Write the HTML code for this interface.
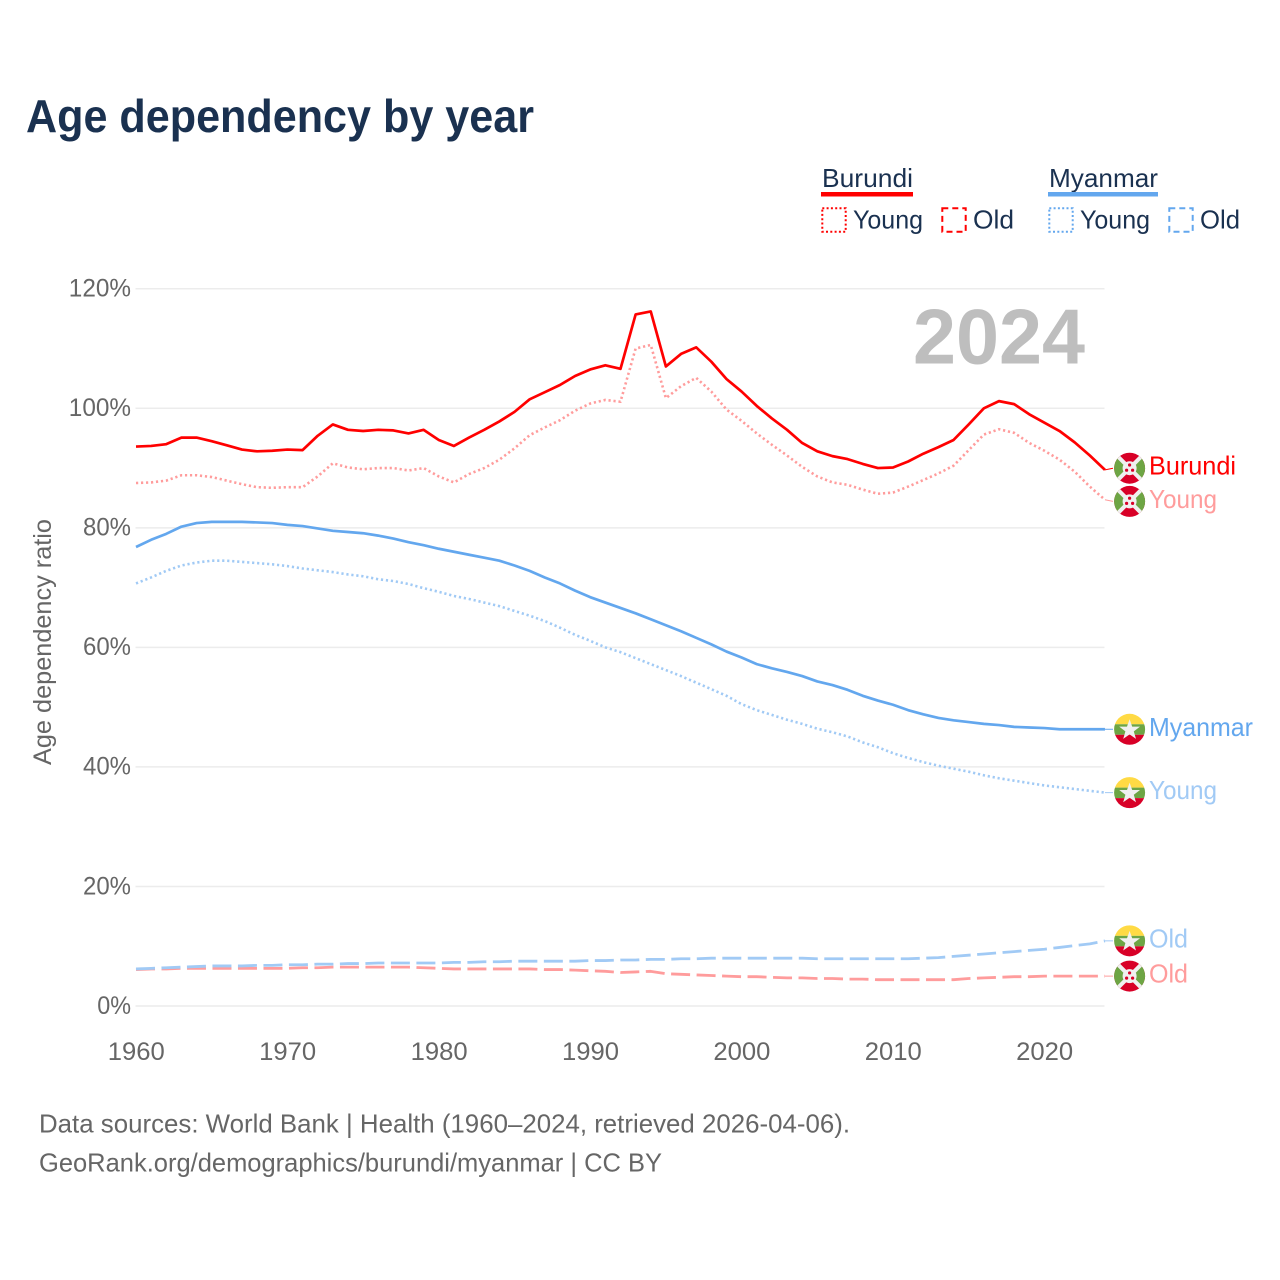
<!DOCTYPE html>
<html lang="en">
<head>
<meta charset="utf-8">
<title>Age dependency by year</title>
<style>
html,body{margin:0;padding:0;background:#fff;}
svg{display:block;font-family:"Liberation Sans",Arial,sans-serif;}
</style>
</head>
<body>
<svg id="chart" xmlns="http://www.w3.org/2000/svg" width="1280" height="1280" viewBox="0 0 1280 1280">
  <defs>
    <clipPath id="flag-clip"><circle cx="0" cy="0" r="15.5"/></clipPath>
    <symbol id="flag-burundi" viewBox="-16 -16 32 32" width="32" height="32" overflow="visible">
      <g clip-path="url(#flag-clip)">
        <rect x="-16" y="-16" width="32" height="32" fill="#d80027"/>
        <path d="M-16,-16 L0,0 L-16,16 Z" fill="#6da544"/>
        <path d="M16,-16 L0,0 L16,16 Z" fill="#6da544"/>
        <path d="M-16,-16 L16,16 M16,-16 L-16,16" stroke="#f0f0f0" stroke-width="4"/>
        <circle cx="0" cy="0" r="7" fill="#f0f0f0"/>
        <circle cx="0" cy="-3.2" r="1.6" fill="#d80027"/>
        <circle cx="-3" cy="2" r="1.6" fill="#d80027"/>
        <circle cx="3" cy="2" r="1.6" fill="#d80027"/>
      </g>
    </symbol>
    <symbol id="flag-myanmar" viewBox="-16 -16 32 32" width="32" height="32" overflow="visible">
      <g clip-path="url(#flag-clip)">
        <rect x="-16" y="-16" width="32" height="11" fill="#ffda44"/>
        <rect x="-16" y="-5" width="32" height="10.5" fill="#6da544"/>
        <rect x="-16" y="5.5" width="32" height="11" fill="#d80027"/>
        <path d="M0,-10 L2.6,-2.6 L10.4,-2.6 L4.2,2.1 L6.4,9.6 L0,5.1 L-6.4,9.6 L-4.2,2.1 L-10.4,-2.6 L-2.6,-2.6 Z" fill="#f0f0f0"/>
      </g>
    </symbol>
  </defs>

  <text x="26" y="132" font-size="46" font-weight="700" fill="#1a3150" textLength="508" lengthAdjust="spacingAndGlyphs">Age dependency by year</text>

  <g font-size="26" fill="#1a3150">
    <text x="822" y="187" textLength="91" lengthAdjust="spacingAndGlyphs">Burundi</text>
    <rect x="821" y="192" width="92" height="4.5" fill="#ff0000"/>
    <rect x="822.3" y="208.3" width="23.4" height="23.4" fill="none" stroke="#ff0000" stroke-width="2" stroke-dasharray="2 2.3"/>
    <text x="853" y="228.5" textLength="70" lengthAdjust="spacingAndGlyphs">Young</text>
    <rect x="942.3" y="208.3" width="23.4" height="23.4" fill="none" stroke="#ff0000" stroke-width="2" stroke-dasharray="6 4"/>
    <text x="973" y="228.5" textLength="41" lengthAdjust="spacingAndGlyphs">Old</text>

    <text x="1049" y="187" textLength="109" lengthAdjust="spacingAndGlyphs">Myanmar</text>
    <rect x="1048" y="192" width="110" height="4.5" fill="#63a7ee"/>
    <rect x="1049.3" y="208.3" width="23.4" height="23.4" fill="none" stroke="#63a7ee" stroke-width="2" stroke-dasharray="2 2.3"/>
    <text x="1080" y="228.5" textLength="70" lengthAdjust="spacingAndGlyphs">Young</text>
    <rect x="1169.3" y="208.3" width="23.4" height="23.4" fill="none" stroke="#63a7ee" stroke-width="2" stroke-dasharray="6 4"/>
    <text x="1200" y="228.5" textLength="40" lengthAdjust="spacingAndGlyphs">Old</text>
  </g>

  <g id="grid"></g>
  <g id="y-ticks"></g>
  <g id="x-ticks"></g>
  <text transform="translate(51 642) rotate(-90)" text-anchor="middle" font-size="25" fill="#666666" textLength="246" lengthAdjust="spacingAndGlyphs">Age dependency ratio</text>
  <text x="913" y="363.5" font-size="78" font-weight="700" fill="#bebebe" textLength="172" lengthAdjust="spacingAndGlyphs">2024</text>

  <g id="series"></g>
  <g id="end-labels"></g>

  <text x="39" y="1132.5" font-size="26" fill="#666666" textLength="811" lengthAdjust="spacingAndGlyphs">Data sources: World Bank | Health (1960–2024, retrieved 2026-04-06).</text>
  <text x="39" y="1171.5" font-size="26" fill="#666666" textLength="623" lengthAdjust="spacingAndGlyphs">GeoRank.org/demographics/burundi/myanmar | CC BY</text>
</svg>

<script>
const firstYear = 1960;
const yTickValues = [0, 20, 40, 60, 80, 100, 120];
const xTickYears = [1960, 1970, 1980, 1990, 2000, 2010, 2020];

const burundiTotal = [
  93.6,93.7,94.0,95.1,95.1,94.5,93.8,93.1,92.8,92.9,
  93.1,93.0,95.4,97.3,96.4,96.2,96.4,96.3,95.8,96.4,
  94.7,93.7,95.1,96.4,97.8,99.4,101.5,102.7,103.9,105.4,
  106.5,107.2,106.6,115.7,116.2,107.0,109.1,110.2,107.8,104.9,
  102.8,100.4,98.3,96.4,94.2,92.8,92.0,91.5,90.7,90.0,
  90.1,91.1,92.4,93.5,94.7,97.3,100.0,101.2,100.7,99.0,
  97.6,96.2,94.3,92.1,89.7
];
const burundiYoung = [
  87.5,87.6,87.9,88.8,88.8,88.5,87.9,87.3,86.8,86.7,
  86.8,86.8,88.6,90.8,90.1,89.8,90.0,90.0,89.6,90.0,
  88.6,87.6,89.0,90.0,91.4,93.3,95.5,96.8,98.0,99.6,
  100.8,101.4,101.1,110.0,110.6,101.7,103.7,105.1,102.8,99.8,
  97.9,95.8,93.9,92.1,90.2,88.6,87.6,87.2,86.4,85.7,
  85.9,86.9,88.0,89.1,90.4,93.0,95.6,96.5,95.9,94.2,
  92.9,91.4,89.4,86.9,84.7
];
const burundiOld = [
  6.1,6.2,6.2,6.3,6.3,6.3,6.3,6.3,6.3,6.3,
  6.3,6.4,6.4,6.5,6.5,6.5,6.5,6.5,6.5,6.4,
  6.3,6.2,6.2,6.2,6.2,6.2,6.2,6.1,6.1,6.0,
  5.9,5.8,5.6,5.7,5.8,5.4,5.3,5.2,5.1,5.0,
  4.9,4.9,4.8,4.7,4.7,4.6,4.6,4.5,4.5,4.4,
  4.4,4.4,4.4,4.4,4.4,4.6,4.7,4.8,4.9,4.9,
  5.0,5.0,5.0,5.0,5.0
];
const myanmarTotal = [
  76.8,78.0,79.0,80.2,80.8,81.0,81.0,81.0,80.9,80.8,
  80.5,80.3,79.9,79.5,79.3,79.1,78.7,78.2,77.6,77.1,
  76.5,76.0,75.5,75.0,74.5,73.7,72.8,71.7,70.7,69.5,
  68.4,67.5,66.6,65.7,64.7,63.7,62.7,61.6,60.5,59.3,
  58.3,57.2,56.5,55.9,55.2,54.3,53.7,52.9,51.9,51.1,
  50.4,49.5,48.8,48.2,47.8,47.5,47.2,47.0,46.7,46.6,
  46.5,46.3,46.3,46.3,46.3
];
const myanmarYoung = [
  70.7,71.7,72.8,73.7,74.2,74.5,74.5,74.3,74.1,73.9,
  73.6,73.2,72.9,72.6,72.2,71.9,71.4,71.1,70.6,69.9,
  69.3,68.6,68.1,67.5,66.9,66.1,65.3,64.4,63.3,62.1,
  61.1,60.0,59.2,58.2,57.2,56.2,55.2,54.1,53.0,51.9,
  50.5,49.5,48.7,47.9,47.2,46.4,45.8,45.1,44.1,43.3,
  42.3,41.5,40.8,40.2,39.7,39.2,38.6,38.1,37.7,37.3,
  36.9,36.6,36.3,36.0,35.7
];
const myanmarOld = [
  6.2,6.3,6.4,6.5,6.6,6.7,6.7,6.7,6.8,6.8,
  6.9,6.9,7.0,7.0,7.1,7.1,7.2,7.2,7.2,7.2,
  7.2,7.3,7.3,7.4,7.4,7.5,7.5,7.5,7.5,7.5,
  7.6,7.6,7.7,7.7,7.8,7.8,7.9,7.9,8.0,8.0,
  8.0,8.0,8.0,8.0,8.0,7.9,7.9,7.9,7.9,7.9,
  7.9,7.9,8.0,8.1,8.3,8.5,8.7,8.9,9.1,9.3,
  9.5,9.8,10.1,10.4,10.9
];

const SVG_NS = 'http://www.w3.org/2000/svg';
function xScale(year) { return 136 + (year - 1960) * 15.14; }
function yScale(value) { return 1006 - value * 5.977; }

function make(tag, attrs, parent) {
  const el = document.createElementNS(SVG_NS, tag);
  for (const key in attrs) el.setAttribute(key, attrs[key]);
  parent.appendChild(el);
  return el;
}

const gridGroup = document.getElementById('grid');
const yTickGroup = document.getElementById('y-ticks');
yTickValues.forEach(function (value) {
  const line = make('line', { x1: 135.5, x2: 1104.5, y1: yScale(value), y2: yScale(value), stroke: '#ececec', 'stroke-width': 1.5 }, gridGroup);
  
  
  const label = value + '%';
  const text = make('text', { x: 131, y: yScale(value) + 7.8, 'text-anchor': 'end', 'font-size': 25, fill: '#666666', textLength: (label.length - 1) * 14.2 + 19.6, lengthAdjust: 'spacingAndGlyphs' }, yTickGroup);
  text.textContent = label;
  
  
});

const xTickGroup = document.getElementById('x-ticks');
xTickYears.forEach(function (year) {
  const text = make('text', { x: xScale(year) + 0.3, y: 1060.2, 'text-anchor': 'middle', 'font-size': 25, fill: '#666666', textLength: 57, lengthAdjust: 'spacingAndGlyphs' }, xTickGroup);
  text.textContent = String(year);
  
  
});

const RED = '#ff0000', RED_LIGHT = '#ff9c9c', BLUE = '#63a7ee', BLUE_LIGHT = '#a1caf5';
const DOTTED = '2.2 2.8', DASHED = '19 6.5';
const seriesList = [
  { key: 'burundi-old', values: burundiOld, color: RED_LIGHT, dash: DASHED, width: 2.8, label: 'Old', labelWidth: 39, flag: 'flag-burundi' },
  { key: 'burundi-young', values: burundiYoung, color: RED_LIGHT, dash: DOTTED, width: 2.6, label: 'Young', labelWidth: 68, flag: 'flag-burundi' },
  { key: 'burundi-total', values: burundiTotal, color: RED, dash: '', width: 2.7, label: 'Burundi', labelWidth: 87, flag: 'flag-burundi' },
  { key: 'myanmar-old', values: myanmarOld, color: BLUE_LIGHT, dash: DASHED, width: 2.8, label: 'Old', labelWidth: 39, flag: 'flag-myanmar' },
  { key: 'myanmar-young', values: myanmarYoung, color: BLUE_LIGHT, dash: DOTTED, width: 2.6, label: 'Young', labelWidth: 68, flag: 'flag-myanmar' },
  { key: 'myanmar-total', values: myanmarTotal, color: BLUE, dash: '', width: 2.7, label: 'Myanmar', labelWidth: 104, flag: 'flag-myanmar' }
];

const seriesGroup = document.getElementById('series');
seriesList.forEach(function (s) {
  const points = s.values.map(function (v, i) {
    return xScale(firstYear + i).toFixed(2) + ',' + yScale(v).toFixed(2);
  }).join(' ');
  const line = make('polyline', { points: points, fill: 'none', stroke: s.color, 'stroke-width': s.width, 'stroke-linejoin': 'round' }, seriesGroup);
  if (s.dash) line.setAttribute('stroke-dasharray', s.dash);
  
  
});

/* End labels: centred on the last value, pushed apart when they would collide. */
const MIN_GAP = 33.2;
const placed = seriesList.map(function (s) {
  const last = s.values[s.values.length - 1];
  return { s: s, lineY: yScale(last), y: yScale(last) };
}).sort(function (a, b) { return a.y - b.y; });
for (let i = 1; i < placed.length; i++) {
  const gap = placed[i].y - placed[i - 1].y;
  if (gap < MIN_GAP) {
    const shift = (MIN_GAP - gap) / 2;
    placed[i - 1].y -= shift;
    placed[i].y += shift;
  }
}

const endGroup = document.getElementById('end-labels');
const endX = xScale(2024);
placed.forEach(function (p) {
  const s = p.s;
  const connector = make('polyline', { points: endX + ',' + p.lineY + ' 1113,' + p.y, fill: 'none', stroke: s.color, 'stroke-width': 1 }, endGroup);
  
  
  const flag = make('use', { href: '#' + s.flag, x: 1129.6 - 16, y: p.y - 16, width: 32, height: 32 }, endGroup);
  
  
  const text = make('text', { x: 1149, y: p.y + 6.5, 'font-size': 26, fill: s.color, textLength: s.labelWidth, lengthAdjust: 'spacingAndGlyphs' }, endGroup);
  text.textContent = s.label;
  
  
});
</script>
</body>
</html>
